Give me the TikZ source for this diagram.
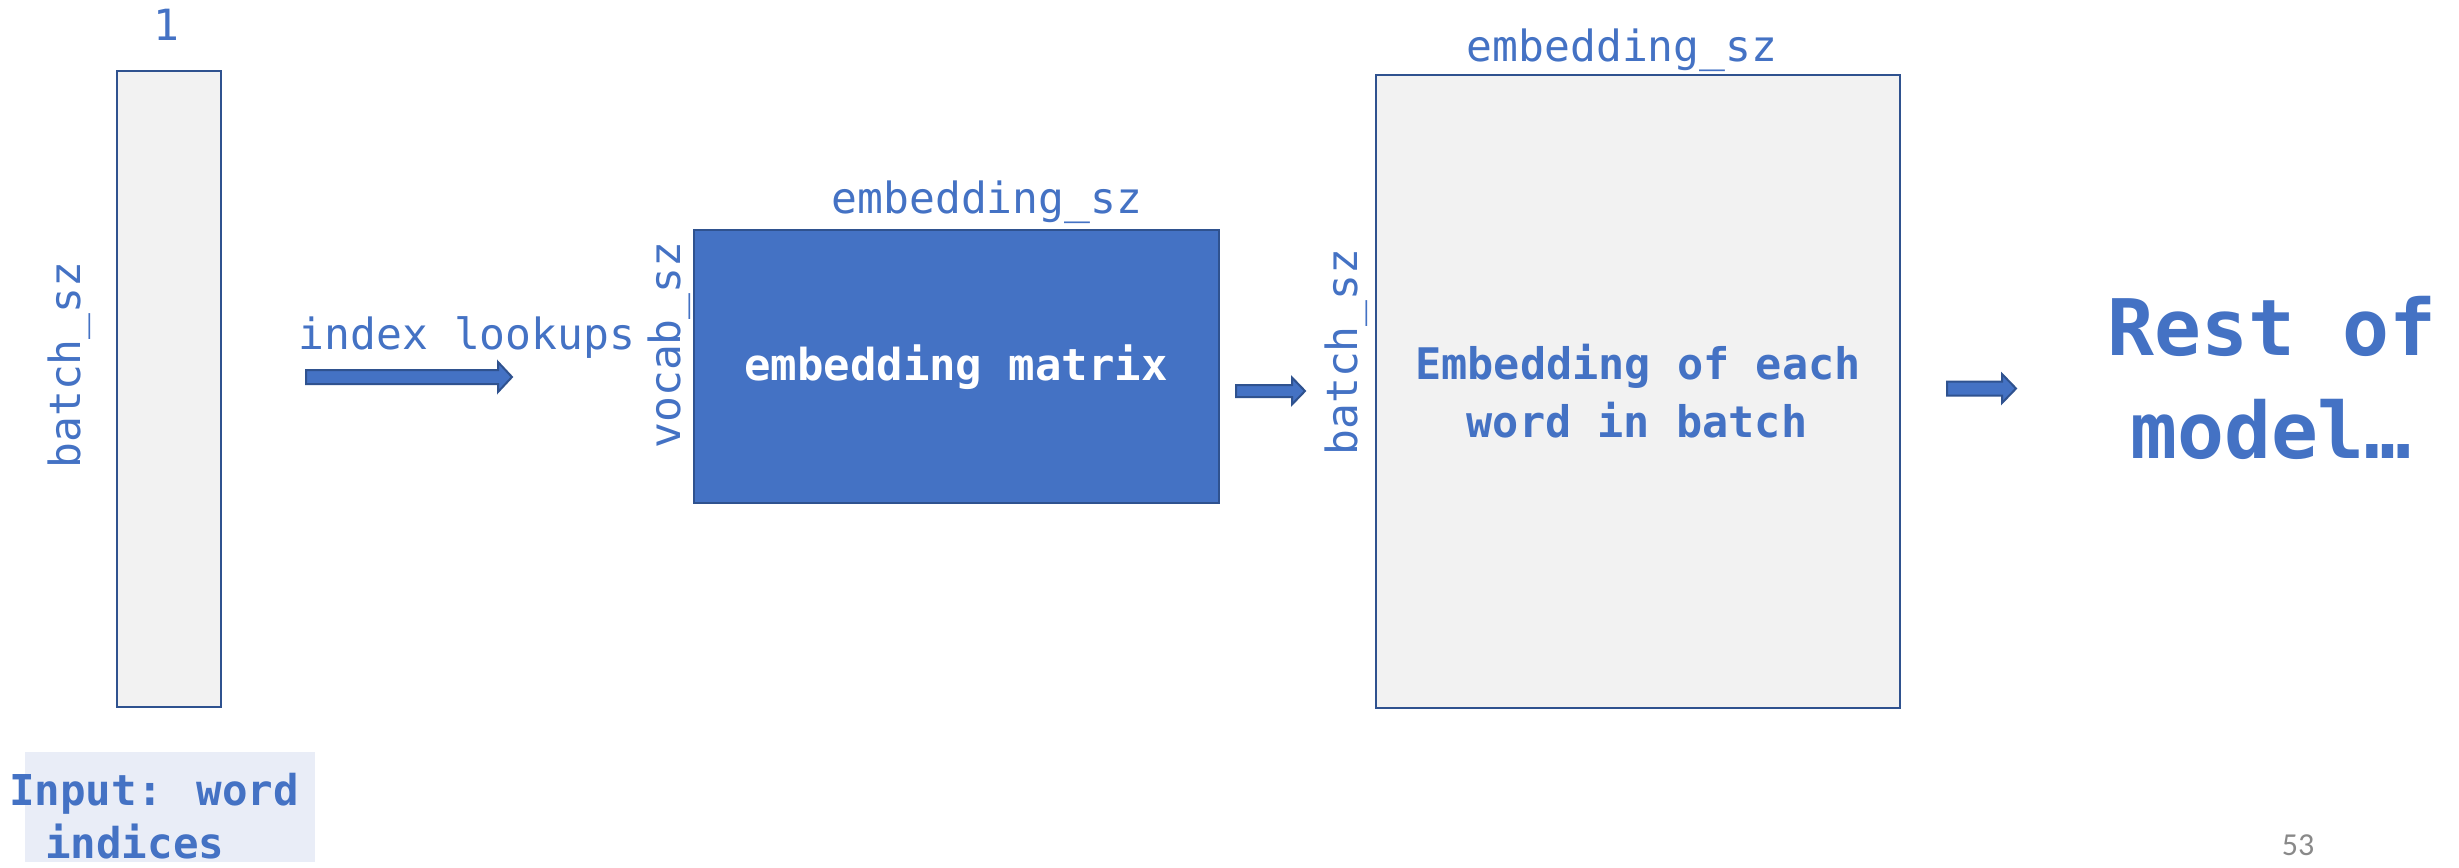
\documentclass[tikz,border=0pt]{standalone}
\usepackage{fontspec}
\newfontfamily\mono{DejaVu Sans Mono}
\newfontfamily\pagefont{Carlito}
\definecolor{accent}{HTML}{4472C4}
\definecolor{edge}{HTML}{2F528F}
\definecolor{panel}{HTML}{F2F2F2}
\definecolor{tint}{HTML}{E9EDF7}
\definecolor{pagegray}{HTML}{898989}
\tikzset{
  dimlabel/.style={text=accent, inner sep=0pt, anchor=base,
    font=\mono\fontsize{43bp}{50bp}\selectfont},
  boldlabel/.style={text=accent, inner sep=0pt, anchor=base,
    font=\mono\bfseries\fontsize{43.5bp}{50bp}\selectfont},
  tensor/.style={draw=edge, line width=2.2bp, inner sep=0pt, anchor=north west},
}
% block arrow: tail x, head-base x, tip x, centre y, half body, half head
\newcommand\blockarrow[6]{%
  \filldraw[fill=accent, draw=edge, line width=2bp, line join=miter]
    (#1,#4-#5) -- (#2,#4-#5) -- (#2,#4-#6) -- (#3,#4) -- (#2,#4+#6)
    -- (#2,#4+#5) -- (#1,#4+#5) -- cycle;}
\begin{document}
\begin{tikzpicture}[x=1bp, y=-1bp]
\useasboundingbox (0,0) rectangle (2459,867);

% input column of word indices
\node[tensor, fill=panel, minimum width=104bp, minimum height=636bp] (inbox) at (116,70) {};
\node[dimlabel] (inone) at (166,40) {1};
\node[dimlabel, rotate=90] (inbatch) at (80,365) {batch\_sz};

% caption under the input column
\fill[tint] (25,752) rectangle (315,862);
\node[boldlabel, anchor=base west, font=\mono\bfseries\fontsize{42.5bp}{50bp}\selectfont] (cap1) at (9,805) {Input: word};
\node[boldlabel, anchor=base west, font=\mono\bfseries\fontsize{42.5bp}{50bp}\selectfont] (cap2) at (45,858) {indices};

% lookup into the embedding matrix
\node[dimlabel] (lookup) at (467,349) {index lookups};
\blockarrow{306}{498}{512}{377}{7}{15}

\node[tensor, fill=accent, minimum width=525bp, minimum height=273bp] (emat) at (693,229) {};
\node[text=white, inner sep=0pt, anchor=base,
  font=\mono\bfseries\fontsize{44bp}{50bp}\selectfont] (ematlbl) at (956,380) {embedding matrix};
\node[dimlabel] (ematw) at (987,213) {embedding\_sz};
\node[dimlabel, rotate=90] (emath) at (680,345) {vocab\_sz};

\blockarrow{1236}{1292}{1305}{391}{6}{13.5}

% embedded batch
\node[tensor, fill=panel, minimum width=524bp, minimum height=633bp] (ebatch) at (1375,74) {};
\node[dimlabel] (ebatchw) at (1622,61) {embedding\_sz};
\node[dimlabel, rotate=90] (ebatchh) at (1357,352) {batch\_sz};
\node[boldlabel] (eb1) at (1638,379) {Embedding of each};
\node[boldlabel] (eb2) at (1637,437) {word in batch};

\blockarrow{1947}{2002}{2016}{388.5}{7}{14.5}

% remainder of the network
\node[text=accent, inner sep=0pt, anchor=base,
  font=\mono\bfseries\fontsize{78bp}{90bp}\selectfont] (rest1) at (2272,355) {Rest of};
\node[text=accent, inner sep=0pt, anchor=base,
  font=\mono\bfseries\fontsize{78bp}{90bp}\selectfont] (rest2) at (2271,458) {model…};

% slide number
\node[text=pagegray, inner sep=0pt, anchor=base,
  font=\pagefont\fontsize{32bp}{38bp}\selectfont] (pageno) at (2298,855) {53};
\end{tikzpicture}
\end{document}
